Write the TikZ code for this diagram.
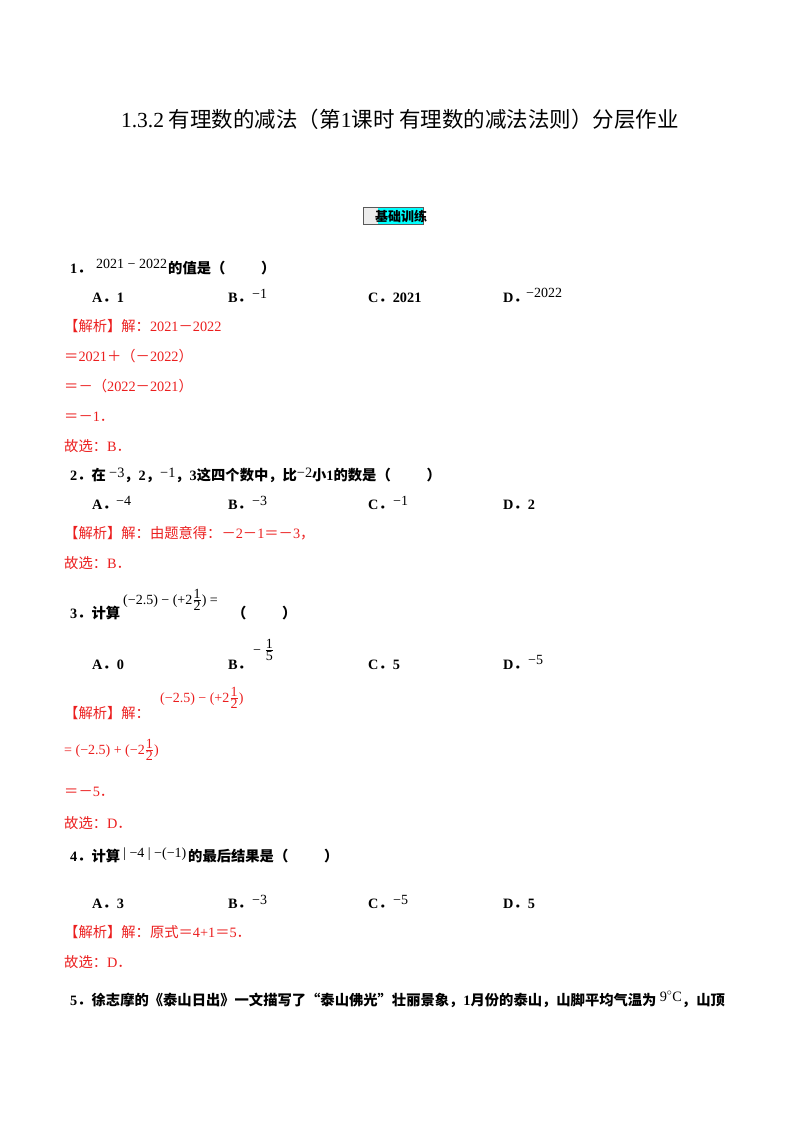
\documentclass[tikz,border=0pt]{standalone}
\usepackage{fontspec}
\usepackage{amsmath}
\setmainfont{Noto Sans CJK SC}
\newfontfamily\tm{Liberation Serif}
\definecolor{red1}{RGB}{235,30,30}
\definecolor{cyan1}{RGB}{0,255,255}
\newcommand{\fr}[2]{$\genfrac{}{}{0.4pt}{}{\hbox{\tm #1}}{\hbox{\tm #2}}$}
\newcommand{\mm}[1]{\raisebox{3pt}{\tm\mdseries #1}}
\begin{document}
\begin{tikzpicture}[x=1pt,y=-1pt,
  every node/.style={inner sep=0pt,anchor=base west,font=\fontsize{14.3}{16}\selectfont},
  q/.style={font=\fontsize{14.3}{16}\selectfont\bfseries},
  m/.style={font=\fontsize{14}{16}\selectfont\tm},
  r/.style={text=red1},
  opt/.style={font=\fontsize{14.3}{16}\selectfont\bfseries}]
\useasboundingbox (0,0) rectangle (800,1132);
\node[anchor=base,font=\fontsize{21.5}{24}\selectfont] (title) at (400,127) {{\tm 1.3.2} 有理数的减法（第{\tm 1}课时\ 有理数的减法法则）分层作业};
% box
\fill[gray!15] (363,207) rectangle (378,224);
\fill[cyan1] (378,207) rectangle (423,224);
\draw[gray!70!black,line width=0.6pt] (363,207) rectangle (423,224);
\node[q,anchor=base,font=\fontsize{13}{15}\selectfont\bfseries] (box) at (401,221) {基础训练};
% Q1
\node[q] (q1) at (70,273) {{\tm 1}．};
\node[m] (q1m) at (96,268) {2021 − 2022};
\node[q] (q1t) at (168,273) {的值是（\hspace{2.5em}）};
\node[opt] (a1) at (92,302) {{\tm A}．{\tm 1}};
\node[opt] (b1) at (228,302) {{\tm B}．};
\node[m] (b1m) at (252,298) {−1};
\node[opt] (c1) at (368,302) {{\tm C}．{\tm 2021}};
\node[opt] (d1) at (503,302) {{\tm D}．};
\node[m] (d1m) at (526,297) {−2022};
\node[r] (s11) at (64,331) {【解析】解：{\tm 2021}－{\tm 2022}};
\node[r] (s12) at (64,361) {＝{\tm 2021}＋（－{\tm 2022}）};
\node[r] (s13) at (64,391) {＝－（{\tm 2022}－{\tm 2021}）};
\node[r] (s14) at (64,421) {＝－{\tm 1}．};
\node[r] (s15) at (64,451) {故选：{\tm B}．};
% Q2
\node[q] (q2) at (70,480) {{\tm 2}．在 \mm{−3}，{\tm 2}，\mm{−1}，{\tm 3}这四个数中，比\mm{−2}小{\tm 1}的数是（\hspace{2.5em}）};
\node[opt] (a2) at (92,509) {{\tm A}．};
\node[m] (a2m) at (116,505) {−4};
\node[opt] (b2) at (228,509) {{\tm B}．};
\node[m] (b2m) at (252,505) {−3};
\node[opt] (c2) at (368,509) {{\tm C}．};
\node[m] (c2m) at (393,505) {−1};
\node[opt] (d2) at (503,509) {{\tm D}．{\tm 2}};
\node[r] (s21) at (64,538) {【解析】解：由题意得：－{\tm 2}－{\tm 1}＝－{\tm 3}，};
\node[r] (s22) at (64,568) {故选：{\tm B}．};
% Q3
\node[q] (q3) at (70,618) {{\tm 3}．计算};
\node[m] (q3m) at (123,604) {(−2.5) − (+2\fr{1}{2}) =};
\node[q] (q3p) at (232,618) {（\hspace{2.5em}）};
\node[opt] (a3) at (92,669) {{\tm A}．{\tm 0}};
\node[opt] (b3) at (228,669) {{\tm B}．};
\node[m] (b3m) at (253,654) {− \fr{1}{5}};
\node[opt] (c3) at (368,669) {{\tm C}．{\tm 5}};
\node[opt] (d3) at (503,669) {{\tm D}．};
\node[m] (d3m) at (528,664) {−5};
\node[r] (s31) at (64,718) {【解析】解：};
\node[m,r] (s31m) at (160,702) {(−2.5) − (+2\fr{1}{2})};
\node[m,r] (s32) at (64,754) {= (−2.5) + (−2\fr{1}{2})};
\node[r] (s33) at (64,796) {＝－{\tm 5}．};
\node[r] (s34) at (64,828) {故选：{\tm D}．};
% Q4
\node[q] (q4) at (70,861) {{\tm 4}．计算};
\node[m] (q4m) at (123,857) {| −4 | −(−1)};
\node[q] (q4t) at (188,861) {的最后结果是（\hspace{2.5em}）};
\node[opt] (a4) at (92,908) {{\tm A}．{\tm 3}};
\node[opt] (b4) at (228,908) {{\tm B}．};
\node[m] (b4m) at (252,904) {−3};
\node[opt] (c4) at (368,908) {{\tm C}．};
\node[m] (c4m) at (393,904) {−5};
\node[opt] (d4) at (503,908) {{\tm D}．{\tm 5}};
\node[r] (s41) at (64,937) {【解析】解：原式＝{\tm 4+1}＝{\tm 5}．};
\node[r] (s42) at (64,967) {故选：{\tm D}．};
% Q5
\node[q] (q5) at (70,1005) {{\tm 5}．徐志摩的《泰山日出》一文描写了“泰山佛光”壮丽景象，{\tm 1}月份的泰山，山脚平均气温为 \raisebox{4pt}{\tm\mdseries 9$^{\circ}$C}，山顶};
\end{tikzpicture}
\end{document}
